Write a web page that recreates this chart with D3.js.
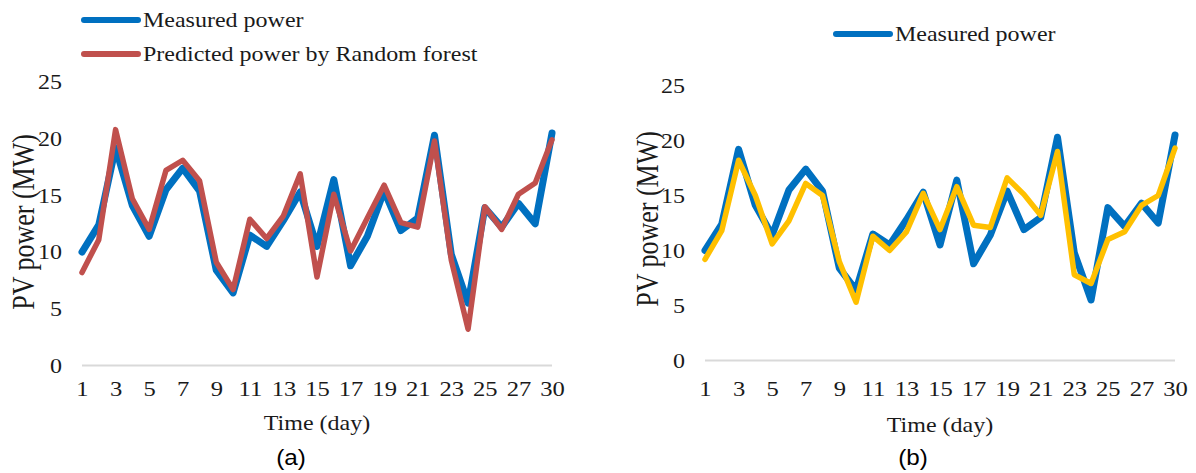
<!DOCTYPE html>
<html>
<head>
<meta charset="utf-8">
<script src="https://cdn.jsdelivr.net/npm/d3@7"></script>
<style>
  html, body { margin: 0; padding: 0; background: #fff; }
  svg { display: block; }
  .serif { font-family: "Liberation Serif", "Times New Roman", serif; fill: #1a1a1a; }
  .sans { font-family: "Liberation Sans", Arial, sans-serif; fill: #000; }
</style>
</head>
<body>
<svg id="chart" width="1196" height="473"></svg>
<script>
// days on the category axis (29 points, the label after 28 is 30)
const days = ['1','2','3','4','5','6','7','8','9','10','11','12','13','14','15',
              '16','17','18','19','20','21','22','23','24','25','26','27','28','30']
const measured = [10.0, 12.4, 19.2, 14.1, 11.4, 15.5, 17.4, 15.4, 8.4, 6.4,
                  11.5, 10.5, 12.8, 15.3, 10.5, 16.4, 8.8, 11.4, 15.4, 11.9,
                  13.0, 20.3, 9.8, 5.5, 13.9, 12.2, 14.3, 12.5, 20.5]
const randomForest = [8.2, 11.1, 20.8, 14.7, 12.0, 17.2, 18.1, 16.3, 9.1, 6.7,
                      12.9, 11.2, 13.2, 16.9, 7.8, 15.1, 10.1, 13.0, 15.9, 12.6,
                      12.2, 19.8, 9.3, 3.2, 14.0, 12.0, 15.1, 16.1, 19.9]
// yellow series of panel (b), its legend entry is cut off in the figure
const predictedB = [9.2, 11.8, 18.2, 15.0, 10.6, 12.7, 16.1, 15.0, 9.0, 5.3,
                    11.3, 10.0, 11.7, 15.2, 11.9, 15.8, 12.3, 12.1, 16.6, 15.1,
                    13.2, 19.0, 7.8, 7.0, 11.0, 11.7, 14.1, 15.0, 19.3]
const yTicks = [0, 5, 10, 15, 20, 25]
const xTickDays = days.filter((d, i) => i % 2 === 0)

const BLUE = '#0070C0'
const RED = '#C0504D'
const YELLOW = '#FFC000'
const STRETCH = 1.2   // the figure is a bit wider than tall, text looks stretched

const svg = d3.select('#chart')

const panels = [
  { left: 82, right: 552, top: 82, bottom: 365.5, tickY: 396, titleX: 317, titleY: 430,
    yTitleX: 23, yTitleY: 222, tag: '(a)', tagX: 291,
    series: [{ values: measured, color: BLUE, width: 7 }, { values: randomForest, color: RED, width: 5.5 }] },
  { left: 705, right: 1175, top: 85.5, bottom: 360.5, tickY: 396, titleX: 940, titleY: 432,
    yTitleX: 647, yTitleY: 219, tag: '(b)', tagX: 913,
    series: [{ values: measured, color: BLUE, width: 7 }, { values: predictedB, color: YELLOW, width: 5.5 }] }
]

function stretchedText(g, x, y, str, cls, size, anchor) {
  return g.append('text')
    .attr('class', cls)
    .attr('transform', `translate(${x},${y}) scale(${STRETCH},1)`)
    .attr('text-anchor', anchor || 'start')
    .style('font-size', size + 'px')
    .text(str)
}

function drawPanel(p) {
  const x = d3.scalePoint().domain(days).range([p.left, p.right])
  const y = d3.scaleLinear().domain([0, 25]).range([p.bottom, p.top])
  const g = svg.append('g')

  // baseline only, no gridlines
  g.append('line')
    .attr('x1', p.left).attr('x2', p.right)
    .attr('y1', y(0)).attr('y2', y(0))
    .attr('stroke', '#D9D9D9').attr('stroke-width', 1.8)

  // y ticks
  const yAxis = g.append('g')
    .attr('transform', `translate(${p.left - 20},0)`)
    .call(d3.axisLeft(y).tickValues(yTicks).tickSize(0).tickPadding(0))
  yAxis.select('.domain').remove()
  yAxis.selectAll('text')
    .attr('class', 'serif')
    .attr('x', 0)
    .attr('dy', '0.34em')
    .attr('transform', `scale(${STRETCH},1)`)
    .style('font-size', '20px')

  // x ticks
  const xAxis = g.append('g')
    .attr('transform', `translate(0,${p.tickY})`)
    .call(d3.axisBottom(x).tickValues(xTickDays).tickSize(0).tickPadding(0))
  xAxis.select('.domain').remove()
  xAxis.selectAll('text')
    .attr('class', 'serif')
    .attr('y', 0)
    .attr('dy', 0)
    .attr('transform', `scale(${STRETCH},1)`)
    .style('font-size', '20.5px')

  const line = d3.line()
    .x((d, i) => x(days[i]))
    .y(d => y(d))

  p.series.forEach(s => {
    g.append('path')
      .datum(s.values)
      .attr('d', line)
      .attr('fill', 'none')
      .attr('stroke', s.color)
      .attr('stroke-width', s.width)
      .attr('stroke-linejoin', 'round')
      .attr('stroke-linecap', 'round')
  })

  stretchedText(g, p.titleX, p.titleY, 'Time (day)', 'serif', 20, 'middle')

  g.append('text')
    .attr('class', 'serif')
    .attr('transform', `translate(${p.yTitleX},${p.yTitleY}) scale(${STRETCH},1) rotate(-90)`)
    .attr('text-anchor', 'middle')
    .attr('dy', '0.35em')
    .style('font-size', '26px')
    .text('PV power (MW)')

  g.append('text')
    .attr('class', 'sans')
    .attr('transform', `translate(${p.tagX},465) scale(1.1,1)`)
    .attr('text-anchor', 'middle')
    .style('font-size', '22px')
    .text(p.tag)
}

panels.forEach(drawPanel)

// legends
function legendItem(x, y, color, label) {
  svg.append('line')
    .attr('x1', x).attr('x2', x + 54)
    .attr('y1', y).attr('y2', y)
    .attr('stroke', color).attr('stroke-width', 6).attr('stroke-linecap', 'round')
  stretchedText(svg, x + 59, y + 7, label, 'serif', 20)
}

legendItem(84, 20, BLUE, 'Measured power')
legendItem(84, 54, RED, 'Predicted power by Random forest')
legendItem(836, 34, BLUE, 'Measured power')
</script>
</body>
</html>
